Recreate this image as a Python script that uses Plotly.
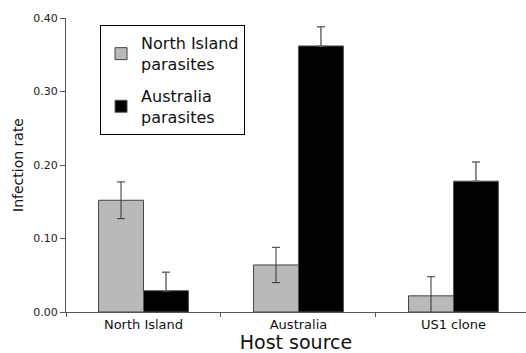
import plotly.graph_objects as go

hosts = ["North Island", "Australia", "US1 clone"]
north_island_rate = [0.152, 0.064, 0.022]
north_island_err = [0.025, 0.024, 0.026]
australia_rate = [0.029, 0.362, 0.178]
australia_err = [0.025, 0.026, 0.026]
y_ticks = [0.0, 0.1, 0.2, 0.3, 0.4]

FONT = "DejaVu Sans"

fig = go.Figure()
fig.add_trace(go.Bar(
    x=hosts, y=north_island_rate, name="North Island<br>parasites",
    legendgroup="ni",
    marker=dict(color="#bdbdbd",
                line=dict(color="#444444", width=1),
                pattern=dict(shape=".", size=2, solidity=0.5,
                             fgcolor="#8a8a8a", bgcolor="#dedede",
                             fillmode="replace")),
    error_y=dict(type="data", array=north_island_err, visible=True,
                 color="#333333", thickness=1, width=4),
))
# upper whisker only: the lower half would vanish inside the black bar
fig.add_trace(go.Bar(
    x=hosts, y=australia_rate, name="Australia<br>parasites",
    legendgroup="au",
    marker=dict(color="#000000", line=dict(color="#555555", width=1)),
    error_y=dict(type="data", symmetric=False, array=australia_err,
                 arrayminus=[0, 0, 0], visible=True,
                 color="#6a6a6a", thickness=1.5, width=4),
))

fig.update_layout(
    width=526, height=353,
    margin=dict(l=66, r=0, t=18, b=41),
    paper_bgcolor="white", plot_bgcolor="white",
    barmode="group", bargap=0.42, bargroupgap=0,
    font=dict(family=FONT, color="#111111"),
    showlegend=True,
    legend=dict(x=0.074, y=0.975, xanchor="left", yanchor="top",
                bordercolor="#000000", borderwidth=1,
                bgcolor="white", font=dict(size=16, family=FONT),
                tracegroupgap=8, itemwidth=30,
                traceorder="grouped"),
)
fig.update_xaxes(
    range=[-0.5, 2.468], showline=True, linecolor="#555555", linewidth=1,
    ticks="outside", tickson="boundaries", ticklen=4, tickcolor="#555555",
    tickfont=dict(size=13, family=FONT, color="#111111"),
    title=dict(text="Host source", font=dict(size=19, family=FONT), standoff=4),
    showgrid=False, zeroline=False,
)
fig.update_yaxes(
    range=[0, 0.4], tickvals=y_ticks, tickformat=".2f",
    showline=True, linecolor="#555555", linewidth=1,
    ticks="outside", ticklen=5, tickcolor="#555555",
    tickfont=dict(size=11, family=FONT, color="#222222"),
    title=dict(text="Infection rate", font=dict(size=14, family=FONT), standoff=6),
    showgrid=False, zeroline=False,
)

fig.write_html("out.html")
